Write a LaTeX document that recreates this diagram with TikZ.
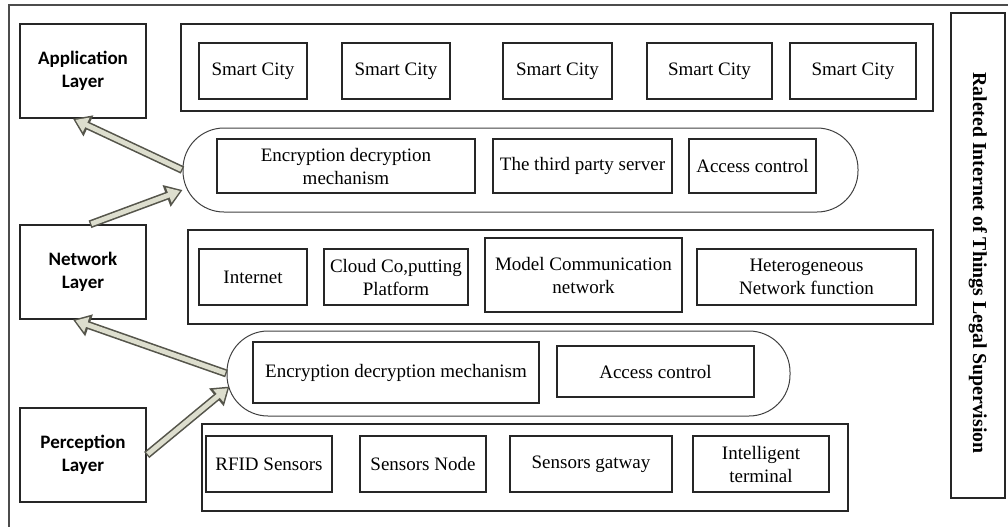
\documentclass[tikz,border=0pt]{standalone}
\usepackage{fontspec}
\setmainfont{Liberation Serif}
\newfontfamily\layerfont{Carlito}
\usetikzlibrary{arrows.meta}
\definecolor{arrowfill}{RGB}{221,222,206}
\definecolor{arrowline}{RGB}{85,85,75}
\tikzstyle{layer} = [draw=black!85, line width=0.7pt, rectangle, align=center, minimum width=63pt, minimum height=47pt, font=\layerfont\bfseries\fontsize{9.5}{11.5}\selectfont]
\tikzstyle{frame} = [draw=black!85, line width=1.2pt, rectangle, inner sep=0pt]
\tikzstyle{block} = [draw=black!85, line width=0.6pt, rectangle, align=center, inner sep=0pt, minimum height=28pt]
\tikzstyle{capsule} = [draw=black!75, line width=0.5pt, rectangle, rounded corners=20.5pt, inner sep=0pt]
\tikzstyle{hollow} = [draw=arrowline, line width=4pt, -{Triangle[width=11pt,length=8.5pt]}, postaction={draw=arrowfill, line width=2.4pt, shorten >=1.3pt, shorten <=0.7pt, -{Triangle[width=7.6pt,length=6pt]}}]
\begin{document}
\begin{tikzpicture}[x=0.5pt, y=-0.5pt, font=\fontsize{9.5}{11.5}\selectfont]
        \useasboundingbox (0,0) rectangle (1008,526);
        \draw[black!70, line width=1.3pt] (9,5) rectangle (1020,535);
        % layers on the left
        \node[layer] (app) at (83,71) {Application\\Layer};
        \node[layer] (net) at (83,272) {Network\\Layer};
        \node[layer] (per) at (83,455) {Perception\\Layer};
        % application row
        \node[frame, minimum width=376pt, minimum height=43.5pt] (appframe) at (557,67.5) {};
        \node[block, minimum width=54pt] (city1) at (253,71) {Smart City};
        \node[block, minimum width=54pt] (city2) at (396,71) {Smart City};
        \node[block, minimum width=54.5pt] (city3) at (557.5,71) {Smart City};
        \node[block, minimum width=62.5pt] (city4) at (709.5,71) {Smart City};
        \node[block, minimum width=63pt] (city5) at (853,71) {Smart City};
        % security between application and network
        \node[capsule, minimum width=337.5pt, minimum height=42pt] (capup) at (520.5,170) {};
        \node[block, minimum width=129pt, minimum height=27pt] (encup) at (346,166) {Encryption decryption\\mechanism};
        \node[block, minimum width=89.5pt, minimum height=27pt] (server) at (582.5,166) {The third party server};
        \node[block, minimum width=63.5pt, minimum height=27pt] (accup) at (752.5,166) {Access control};
        % network row
        \node[frame, minimum width=372.5pt, minimum height=47pt] (netframe) at (560.5,277) {};
        \node[block, minimum width=54pt] (inet) at (253,277) {Internet};
        \node[block, minimum width=72pt] (cloud) at (396,277) {Cloud Co,putting\\Platform};
        \node[block, minimum width=98.5pt, minimum height=37pt] (model) at (583.5,275) {Model Communication\\network};
        \node[block, minimum width=109.5pt] (hetero) at (806.5,277) {Heterogeneous\\Network function};
        % security between network and perception
        \node[capsule, minimum width=281.5pt, minimum height=42.5pt] (caplow) at (508.5,373.5) {};
        \node[block, minimum width=143pt, minimum height=30.5pt] (enclow) at (396,372.5) {Encryption decryption mechanism};
        \node[block, minimum width=98.5pt, minimum height=25.5pt] (acclow) at (655.5,371.5) {Access control};
        % perception row
        \node[frame, minimum width=323pt, minimum height=43.5pt] (perframe) at (525,467.5) {};
        \node[block, minimum width=63pt] (rfid) at (269,464) {RFID Sensors};
        \node[block, minimum width=63pt] (snode) at (423,464) {Sensors Node};
        \node[block, minimum width=81pt] (gateway) at (591,464) {Sensors gatway};
        \node[block, minimum width=68pt] (terminal) at (761,464) {Intelligent\\terminal};
        % supervision column
        \node[draw=black!85, line width=0.7pt, rotate=-90, minimum width=242.5pt, minimum height=27pt, inner sep=0pt, font=\bfseries\fontsize{9.9}{11.5}\selectfont] (superv) at (978,255.5) {\hspace*{7.5pt}Raleted Internet of Things Legal Supervision};
        % arrows
        \path[hollow] (capup.west) -- ([xshift=-5pt]app.south);
        \path[hollow] ([xshift=3.5pt]net.north) -- ([yshift=-10pt]capup.west);
        \path[hollow] (caplow.west) -- ([xshift=-5pt]net.south);
        \path[hollow] (per.east) -- ([xshift=1.5pt,yshift=-6.5pt]caplow.west);
\end{tikzpicture}
\end{document}
